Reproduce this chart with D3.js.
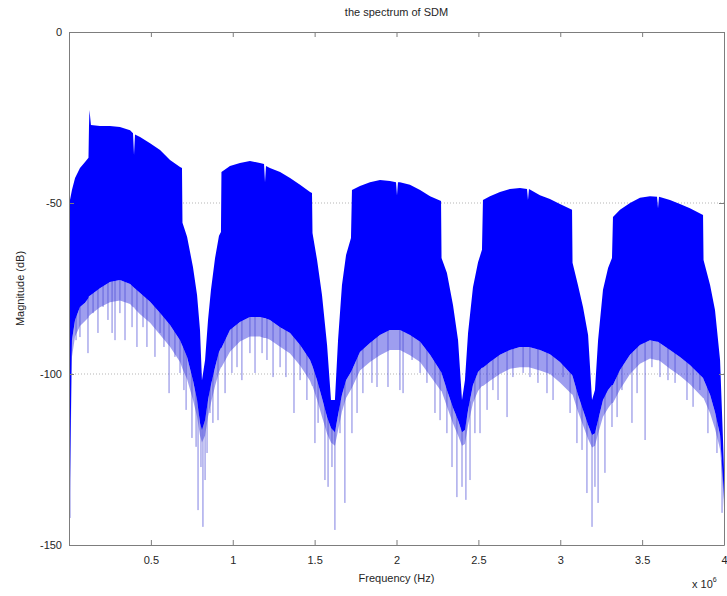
<!DOCTYPE html>
<html>
<head>
<meta charset="utf-8">
<script src="https://cdn.jsdelivr.net/npm/d3@7"></script>
<style>
  body { margin: 0; background: #fff; }
  svg { display: block; font-family: "Liberation Sans", Arial, sans-serif; }
</style>
</head>
<body>
<div id="chart"></div>
<script>
// spectrum envelope (frequency in units of 1e6 Hz, magnitude in dB)
const FREQ = [0.006, 0.018, 0.037, 0.067, 0.098, 0.119, 0.122, 0.125, 0.134, 0.189, 0.250, 0.311, 0.373, 0.391, 0.397, 0.403, 0.434, 0.495, 0.556, 0.617, 0.678, 0.690, 0.693, 0.721, 0.757, 0.782, 0.800, 0.812,
  0.831, 0.849, 0.867, 0.892, 0.916, 0.928, 0.931, 0.983, 1.044, 1.105, 1.166, 1.191, 1.197, 1.203, 1.227, 1.289, 1.350, 1.411, 1.472, 1.484, 1.487, 1.515, 1.545, 1.576, 1.600,
  1.624, 1.643, 1.667, 1.692, 1.722, 1.728, 1.777, 1.838, 1.899, 1.960, 1.997, 2.003, 2.009, 2.021, 2.082, 2.144, 2.205, 2.272, 2.275, 2.308, 2.345, 2.376, 2.400,
  2.418, 2.437, 2.467, 2.498, 2.522, 2.528, 2.571, 2.632, 2.693, 2.754, 2.797, 2.803, 2.809, 2.876, 2.937, 2.998, 3.072, 3.075, 3.108, 3.139, 3.170, 3.194,
  3.212, 3.231, 3.261, 3.292, 3.316, 3.322, 3.365, 3.426, 3.487, 3.548, 3.591, 3.597, 3.603, 3.670, 3.731, 3.792, 3.872, 3.875, 3.915, 3.945, 3.976, 3.994, 4.000];

const TOP_DB = [-49.1, -46.2, -42.7, -39.8, -38.0, -36.8, -27.8, -22.8, -27.2, -27.5, -27.5, -27.8, -28.7, -29.6, -36.0, -30.0, -30.7, -32.5, -34.5, -37.4, -39.5, -39.8, -55.8, -59.9, -68.7, -76.9, -87.1, -101.8,
  -95.9, -84.2, -75.4, -66.1, -59.6, -58.5, -40.9, -39.2, -38.3, -37.7, -38.3, -38.6, -43.9, -39.2, -39.8, -40.9, -42.7, -44.7, -46.8, -47.1, -58.8, -66.7, -76.9, -91.5, -107.6,
  -107.6, -90.1, -74.0, -65.2, -60.2, -46.2, -45.0, -43.9, -43.3, -43.6, -43.9, -47.7, -43.9, -43.9, -44.7, -46.2, -48.0, -49.4, -66.1, -70.5, -79.8, -90.1, -107.6,
  -101.8, -88.0, -74.6, -67.3, -63.7, -49.1, -48.0, -46.8, -45.9, -45.6, -45.9, -49.1, -45.9, -47.7, -48.8, -50.3, -52.0, -67.5, -74.0, -80.4, -88.6, -107.6,
  -104.7, -90.1, -75.4, -69.0, -66.1, -54.1, -52.0, -50.0, -48.5, -48.0, -48.2, -51.5, -48.2, -49.1, -50.3, -51.5, -53.5, -66.7, -74.0, -81.3, -95.9, -119.3, -128.1];

const BOTTOM_DB = [-131.0, -90.1, -84.2, -80.4, -79.2, -77.8, -77.2, -77.2, -76.9, -74.9, -73.1, -72.5, -73.7, -74.5, -74.8, -75.0, -76.3, -78.9, -82.2, -85.7, -90.1, -91.5, -91.8, -95.0, -101.8, -107.6, -114.3, -116.4,
  -113.5, -107.6, -103.2, -98.0, -93.6, -92.4, -92.4, -87.1, -84.8, -83.3, -83.3, -83.6, -83.6, -83.8, -84.2, -86.3, -88.0, -91.5, -95.9, -97.4, -97.7, -101.8, -107.0, -112.6, -115.8,
  -117.0, -112.0, -106.1, -101.8, -99.4, -98.8, -93.6, -90.9, -88.6, -87.1, -87.1, -87.1, -87.1, -87.1, -88.6, -90.6, -94.4, -99.4, -99.7, -104.7, -109.9, -113.5, -117.0,
  -116.4, -110.5, -103.2, -99.4, -98.2, -98.2, -96.5, -94.4, -93.0, -92.1, -92.1, -92.1, -92.1, -93.0, -94.2, -96.5, -100.3, -100.6, -106.1, -110.5, -114.9, -117.8,
  -117.3, -113.5, -107.6, -104.7, -103.2, -103.2, -98.8, -94.4, -91.5, -90.1, -90.6, -90.6, -90.8, -93.0, -95.0, -97.4, -101.2, -101.5, -106.1, -111.1, -117.8, -131.0, -136.8];

// pale band of thin lines just below the solid part
const HAZE_DB = [-135.0, -95.0, -89.0, -86.0, -84.5, -83.5, -83.0, -83.0, -82.5, -80.5, -79.0, -78.5, -79.5, -80.5, -80.5, -81.0, -82.5, -85.0, -88.5, -92.0, -96.5, -98.0, -98.5, -101.5, -107.5, -112.5, -118.0, -120.0,
  -118.0, -112.5, -108.5, -103.5, -99.5, -98.0, -98.0, -93.5, -90.5, -89.0, -89.0, -89.5, -89.5, -89.5, -90.0, -92.0, -94.0, -97.5, -102.0, -103.5, -103.5, -107.5, -112.5, -117.5, -120.0,
  -121.0, -116.5, -111.0, -107.0, -104.5, -104.0, -99.0, -96.5, -94.5, -93.0, -93.0, -93.0, -93.0, -93.0, -94.5, -96.5, -100.5, -105.0, -105.0, -109.5, -114.5, -118.0, -121.0,
  -120.5, -115.0, -108.5, -105.0, -103.5, -103.5, -102.0, -100.0, -98.5, -98.0, -98.0, -98.0, -98.0, -99.0, -100.0, -102.5, -106.0, -106.0, -111.0, -115.0, -119.0, -121.5,
  -121.0, -117.5, -112.5, -110.0, -108.5, -108.5, -104.5, -100.0, -97.0, -95.5, -96.0, -96.0, -96.0, -98.5, -100.5, -103.0, -107.0, -107.0, -111.5, -116.0, -122.0, -133.5, -139.0];

// deep single-bin dips hanging below the band
const SPIKE_FREQ = [0.006, 0.043, 0.067, 0.116, 0.147, 0.177, 0.208, 0.238, 0.263, 0.281, 0.311, 0.342, 0.385, 0.415, 0.452, 0.476, 0.525, 0.556, 0.580, 0.611, 0.647, 0.678, 0.702, 0.715, 0.751, 0.776, 0.788, 0.806, 0.818, 0.831, 0.843,
  0.861, 0.879, 0.910, 0.953, 0.995, 1.026, 1.056, 1.105, 1.136, 1.179, 1.209, 1.246, 1.289, 1.325, 1.374, 1.411, 1.453, 1.502, 1.521, 1.563, 1.582, 1.606, 1.624, 1.655, 1.685,
  1.728, 1.759, 1.795, 1.850, 1.881, 1.948, 2.021, 2.040, 2.095, 2.144, 2.186, 2.235, 2.266, 2.308, 2.339, 2.369, 2.400,
  2.424, 2.449, 2.479, 2.510, 2.553, 2.589, 2.620, 2.675, 2.711, 2.773, 2.815, 2.864, 2.919, 2.956, 3.017, 3.060, 3.102, 3.133, 3.163, 3.194,
  3.212, 3.231, 3.273, 3.316, 3.347, 3.377, 3.438, 3.469, 3.518, 3.560, 3.609, 3.658, 3.701, 3.774, 3.811, 3.853, 3.902, 3.957, 3.988];

const SPIKE_BASE = [-60, -82, -79, -76, -75, -74, -73, -72, -72, -72, -72, -72, -73, -74, -76, -77, -79, -81, -82, -83, -86, -88, -90, -92, -98, -104, -106, -110, -110, -110, -106,
  -102, -98, -93, -88, -86, -85, -84, -82, -82, -82, -83, -84, -85, -86, -88, -90, -93, -98, -100, -108, -110, -112, -112, -108, -100,
  -96, -92, -90, -88, -87, -86, -86, -86, -87, -89, -91, -95, -97, -102, -106, -110, -113,
  -112, -108, -101, -97, -95, -93, -92, -91, -90, -90, -90, -91, -92, -93, -95, -97, -103, -107, -111, -114,
  -114, -111, -105, -100, -98, -96, -92, -90, -89, -88, -88, -89, -91, -94, -96, -98, -103, -110, -125];

const SPIKE_TIP = [-142.1, -90.1, -89.2, -93.9, -82.2, -88.0, -80.4, -84.2, -88.0, -90.1, -82.2, -90.1, -86.3, -92.1, -86.3, -92.1, -95.0, -88.0, -92.1, -105.6, -95.0, -99.7, -104.7, -110.5, -118.7, -121.3, -139.8, -127.2, -144.7, -131.0, -123.1,
  -111.4, -114.3, -113.5, -105.6, -99.7, -98.0, -101.8, -93.9, -99.7, -93.9, -95.9, -100.9, -98.0, -100.9, -111.4, -101.8, -107.6, -120.2, -114.3, -131.0, -133.0, -127.2, -145.6, -117.3, -137.7,
  -117.3, -111.4, -105.6, -102.6, -103.8, -103.8, -104.7, -105.6, -95.9, -99.7, -102.6, -111.4, -113.5, -117.3, -127.2, -136.0, -133.0,
  -136.8, -131.0, -117.3, -117.3, -110.5, -104.7, -107.6, -112.6, -100.9, -99.7, -100.9, -102.6, -105.6, -107.6, -100.9, -111.4, -120.2, -122.2, -134.8, -144.7,
  -133.0, -137.7, -128.9, -115.5, -112.6, -104.7, -114.3, -105.6, -119.3, -98.0, -100.9, -101.8, -102.6, -107.6, -109.6, -104.7, -117.3, -123.1, -140.6];

const X_TICKS = [0.5, 1, 1.5, 2, 2.5, 3, 3.5, 4];
const X_TICK_LABELS = ["0.5", "1", "1.5", "2", "2.5", "3", "3.5", "4"];
const Y_TICKS = [0, -50, -100, -150];
const Y_TICK_LABELS = ["0", "-50", "-100", "-150"];
const GRID_DB = [-50, -100];

function drawChart() {
  const W = 727, H = 596;
  const left = 69, right = 724, top = 32, bottom = 545;
  const axisColor = "#7d7d7d";
  const textColor = "#262626";

  const svg = d3.select("#chart").append("svg")
    .attr("width", W)
    .attr("height", H);

  const x = d3.scaleLinear().domain([0, 4]).range([left, right]);
  const y = d3.scaleLinear().domain([-150, 0]).range([bottom, top]);

  svg.append("defs").append("clipPath").attr("id", "plot-clip")
    .append("rect")
    .attr("x", left).attr("y", top)
    .attr("width", right - left).attr("height", bottom - top);

  // dotted grid at -50 and -100
  svg.append("g")
    .selectAll("line")
    .data(GRID_DB)
    .enter()
    .append("line")
    .attr("x1", left).attr("x2", right)
    .attr("y1", d => y(d)).attr("y2", d => y(d))
    .attr("stroke", "#b5b5b5")
    .attr("stroke-width", 1)
    .attr("stroke-dasharray", "1,2");

  const plot = svg.append("g").attr("clip-path", "url(#plot-clip)");
  const idx = d3.range(FREQ.length);

  // pale band under the solid spectrum
  plot.append("path")
    .datum(idx)
    .attr("fill", "#4f4fe2")
    .attr("fill-opacity", 0.55)
    .attr("d", d3.area()
      .x(i => x(FREQ[i]))
      .y0(i => y(HAZE_DB[i]))
      .y1(i => y(BOTTOM_DB[i])));

  // thin dips
  plot.append("g")
    .selectAll("line")
    .data(d3.range(SPIKE_FREQ.length))
    .enter()
    .append("line")
    .attr("x1", i => x(SPIKE_FREQ[i]))
    .attr("x2", i => x(SPIKE_FREQ[i]))
    .attr("y1", i => y(SPIKE_BASE[i]))
    .attr("y2", i => y(SPIKE_TIP[i]))
    .attr("stroke", "#4a4ad6")
    .attr("stroke-opacity", 0.7)
    .attr("stroke-width", 1);

  // the dense spectrum itself
  plot.append("path")
    .datum(idx)
    .attr("fill", "#0000ff")
    .attr("d", d3.area()
      .x(i => x(FREQ[i]))
      .y0(i => y(BOTTOM_DB[i]))
      .y1(i => y(TOP_DB[i])));

  // axes, ticks pointing inwards as in matlab
  svg.append("g")
    .attr("transform", `translate(0,${bottom})`)
    .call(d3.axisBottom(x).tickValues(X_TICKS).tickFormat((d, i) => X_TICK_LABELS[i])
      .tickSizeInner(-5).tickSizeOuter(0).tickPadding(11));

  svg.append("g")
    .attr("transform", `translate(0,${top})`)
    .call(d3.axisTop(x).tickValues(X_TICKS).tickFormat("")
      .tickSizeInner(-5).tickSizeOuter(0));

  svg.append("g")
    .attr("transform", `translate(${left},0)`)
    .call(d3.axisLeft(y).tickValues(Y_TICKS).tickFormat((d, i) => Y_TICK_LABELS[i])
      .tickSizeInner(-5).tickSizeOuter(0).tickPadding(7));

  svg.append("g")
    .attr("transform", `translate(${right},0)`)
    .call(d3.axisRight(y).tickValues(Y_TICKS).tickFormat("")
      .tickSizeInner(-5).tickSizeOuter(0));

  svg.selectAll(".domain, .tick line").attr("stroke", axisColor);
  svg.selectAll(".tick text")
    .attr("fill", textColor)
    .style("font-size", "11px")
    .style("font-family", "\"Liberation Sans\", Arial, sans-serif");

  // title and labels
  svg.append("text")
    .attr("x", (left + right) / 2).attr("y", 16)
    .attr("text-anchor", "middle")
    .attr("fill", textColor)
    .style("font-size", "11px")
    .text("the spectrum of SDM");

  svg.append("text")
    .attr("x", (left + right) / 2).attr("y", 582)
    .attr("text-anchor", "middle")
    .attr("fill", textColor)
    .style("font-size", "11px")
    .text("Frequency (Hz)");

  svg.append("text")
    .attr("transform", `translate(24,${(top + bottom) / 2}) rotate(-90)`)
    .attr("text-anchor", "middle")
    .attr("fill", textColor)
    .style("font-size", "11px")
    .text("Magnitude (dB)");

  const expo = svg.append("text")
    .attr("x", 692).attr("y", 588)
    .attr("fill", textColor)
    .style("font-size", "11px");
  expo.append("tspan").text("x 10");
  expo.append("tspan").attr("dy", -6).style("font-size", "7px").text("6");
}

window.onload = () => {
  drawChart();
};
</script>
</body>
</html>
